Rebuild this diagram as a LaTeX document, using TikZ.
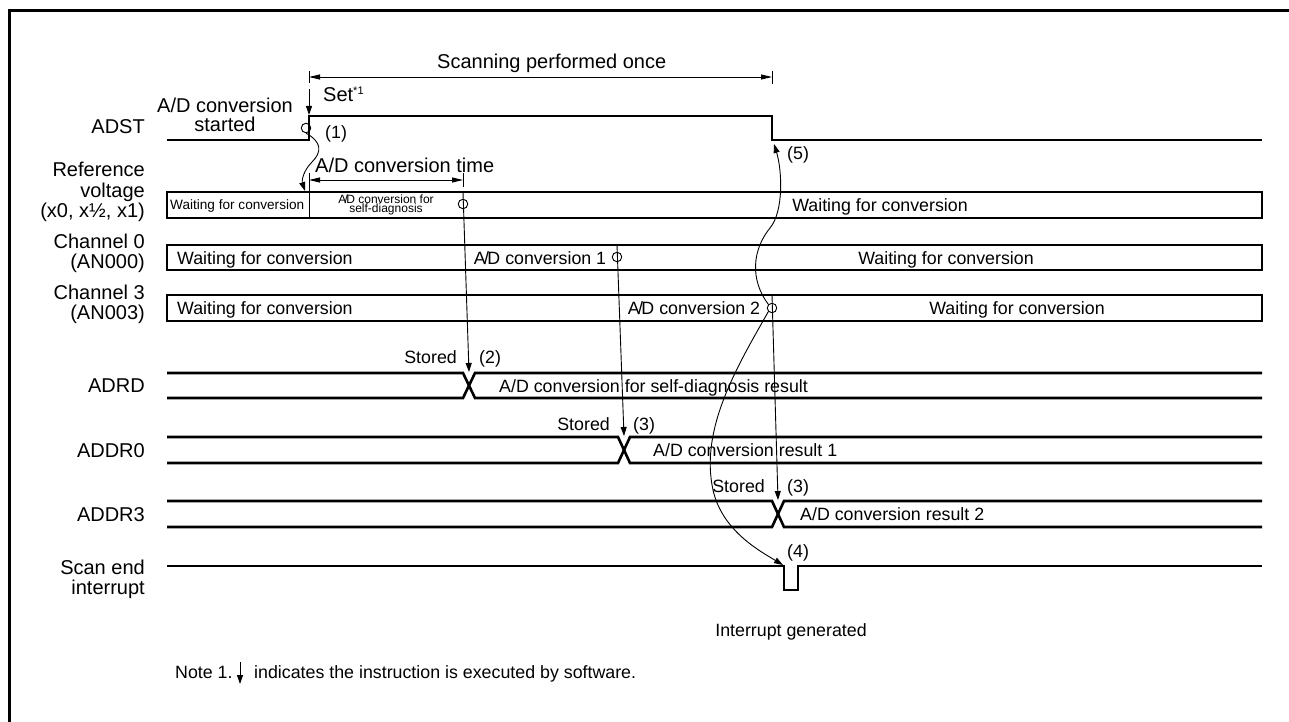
\documentclass[tikz,border=0pt]{standalone}
\usepackage{fontspec}
\setmainfont{Liberation Sans}
\usepackage{graphicx}
\usetikzlibrary{arrows.meta}
\newcommand{\AD}{A\kern-1.6pt/\kern-1.6pt D}
\begin{document}
\begin{tikzpicture}[x=1pt,y=-1pt,
  lbl/.style={font=\fontsize{20}{22}\selectfont, inner sep=0pt},
  txt/.style={font=\fontsize{17.8}{20}\selectfont, inner sep=0pt},
  sig/.style={line width=2.6pt, line join=miter},
  thinl/.style={line width=0.9pt},
  mk/.style={circle, draw, line width=0.9pt, minimum size=9.5pt, inner sep=0pt},
  arr/.style={-{Triangle[length=9pt,width=6pt]}},
  dimarr/.style={thinl, {Triangle[length=11pt,width=5pt]}-{Triangle[length=11pt,width=5pt]}}
]
\useasboundingbox (0,0) rectangle (1289,722);
% frame
\draw[line width=3pt] (9,722) -- (9,11) -- (1289,11);

% ---------- left labels ----------
\node[lbl, anchor=base east] (lADST) at (145,134) {ADST};
\node[lbl, anchor=base east] (lRef1) at (145,177) {Reference};
\node[lbl, anchor=base east] (lRef2) at (145,197) {voltage};
\node[lbl, anchor=base east] (lRef3) at (145,217) {(x0, x½, x1)};
\node[lbl, anchor=base east] (lCh0a) at (145,248) {Channel 0};
\node[lbl, anchor=base east] (lCh0b) at (145,268) {(AN000)};
\node[lbl, anchor=base east] (lCh3a) at (145,299) {Channel 3};
\node[lbl, anchor=base east] (lCh3b) at (145,319) {(AN003)};
\node[lbl, anchor=base east] (lADRD) at (145,392) {ADRD};
\node[lbl, anchor=base east] (lADDR0) at (145,457) {ADDR0};
\node[lbl, anchor=base east] (lADDR3) at (145,521) {ADDR3};
\node[lbl, anchor=base east] (lScan1) at (145,574) {Scan end};
\node[lbl, anchor=base east] (lScan2) at (145,594) {interrupt};

% ---------- top annotations ----------
\node[lbl, anchor=base west] (tScan) at (437,69) {Scanning performed once};
\coordinate (scL) at (309,77);
\coordinate (scR) at (772,77);
\draw[thinl] (309,71) -- (309,83);
\draw[thinl] (772,71) -- (772,84);
\draw[dimarr] (scL) -- (scR);

\node[lbl, anchor=base west] (tSet) at (323,102) {Set\raisebox{7pt}{\fontsize{11}{11}\selectfont *1}};
\coordinate (setTop) at (309,89);
\coordinate (setBot) at (309,115);
\draw[thinl, arr] (setTop) -- (setBot);

\node[lbl, anchor=base] (tStart1) at (225,113) {A/D conversion};
\node[lbl, anchor=base] (tStart2) at (225,132) {started};

% ADST waveform
\draw[sig] (167,140) -- (309,140) -- (309,116) -- (772,116) -- (772,140) -- (1262,140);
\node[mk] (c1) at (306,128) {};
\node[txt, anchor=base west] (n1) at (325,139) {(1)};
\node[txt, anchor=base west] (n5) at (787,160) {(5)};

% A/D conversion time
\node[lbl, anchor=base west] (tTime) at (315,172) {A/D conversion time};
\coordinate (atL) at (309,180);
\coordinate (atR) at (463,180);
\draw[thinl] (463,173) -- (463,187);
\draw[thinl] (309,173) -- (309,192);
\draw[dimarr] (atL) -- (atR);

% ---------- reference voltage box ----------
\draw[sig] (167,192) rectangle (1262,218);
\draw[thinl] (309,192) -- (309,218);
\node[inner sep=0pt, anchor=base west, font=\fontsize{13.6}{14}\selectfont] (rw1) at (170,209) {Waiting for conversion};
\node[inner sep=0pt, anchor=base, font=\fontsize{12}{12}\selectfont] (rsd1) at (386,203) {\AD{} conversion for};
\node[inner sep=0pt, anchor=base, font=\fontsize{12}{12}\selectfont] (rsd2) at (386,212.5) {self-diagnosis};
\node[txt, anchor=base] (rw2) at (880,211.5) {Waiting for conversion};
\node[mk] (cR) at (463,204) {};
\coordinate (rTop) at (463,192);

% ---------- channel 0 box ----------
\draw[sig] (167,245) rectangle (1262,270);
\node[txt, anchor=base west] (c0w1) at (177,264) {Waiting for conversion};
\node[txt, anchor=base] (c0ad) at (540,264) {\AD{} conversion 1};
\node[mk] (c0c) at (617,257) {};
\node[txt, anchor=base] (c0w2) at (946,264) {Waiting for conversion};
\coordinate (c0Top) at (617,245);

% ---------- channel 3 box ----------
\draw[sig] (167,295) rectangle (1262,321);
\node[txt, anchor=base west] (c3w1) at (177,314.5) {Waiting for conversion};
\node[txt, anchor=base] (c3ad) at (694,314.5) {\AD{} conversion 2};
\node[mk] (c3c) at (772,308) {};
\node[txt, anchor=base] (c3w2) at (1017,314.5) {Waiting for conversion};
\coordinate (c3Top) at (772,295);

% ---------- ADRD ----------
\draw[sig] (167,373) -- (463,373) -- (475,398) -- (1262,398);
\draw[sig] (167,398) -- (463,398) -- (475,373) -- (1262,373);
\coordinate (xA) at (469,372);
\node[txt, anchor=base east] (stA) at (457,363) {Stored};
\node[txt, anchor=base west] (n2) at (479,363) {(2)};
\node[txt, anchor=base west] (tADRD) at (499,392) {A/D conversion for self-diagnosis result};

% ---------- ADDR0 ----------
\draw[sig] (167,437) -- (618,437) -- (630,463) -- (1262,463);
\draw[sig] (167,463) -- (618,463) -- (630,437) -- (1262,437);
\coordinate (xB) at (624,436);
\node[txt, anchor=base east] (stB) at (610,430) {Stored};
\node[txt, anchor=base west] (n3a) at (633,430) {(3)};
\node[txt, anchor=base west] (tADDR0) at (653,456.5) {A/D conversion result 1};

% ---------- ADDR3 ----------
\draw[sig] (167,501) -- (772,501) -- (784,527) -- (1262,527);
\draw[sig] (167,527) -- (772,527) -- (784,501) -- (1262,501);
\coordinate (xC) at (778,500);
\node[txt, anchor=base east] (stC) at (765,492) {Stored};
\node[txt, anchor=base west] (n3b) at (787,492) {(3)};
\node[txt, anchor=base west] (tADDR3) at (800,520.5) {A/D conversion result 2};

% ---------- scan end interrupt ----------
\draw[sig] (167,566) -- (784,566) -- (784,590) -- (798,590) -- (798,566) -- (1262,566);
\coordinate (pulse) at (783,565);
\node[txt, anchor=base west] (n4) at (787,557) {(4)};
\node[txt, anchor=base] (tInt) at (791,636) {Interrupt generated};

% ---------- connectors ----------
\coordinate (c1end) at (305,191);
\draw[thinl, arr] (c1.south) .. controls (322,142) and (322,152) .. (312,162) .. controls (302,172) and (302,182) .. (c1end);
\draw[thinl, arr] (rTop) -- (xA);
\draw[thinl, arr] (c0Top) -- (xB);
\draw[thinl, arr] (c3Top) -- (xC);
\coordinate (fall) at (774,144);
\draw[thinl, arr] (c3c.north west) .. controls (750,280) and (752,250) .. (770,228) .. controls (784,211) and (782,170) .. (fall);
\draw[thinl, arr] (c3c.south west) .. controls (735,370) and (700,430) .. (713,490) .. controls (722,530) and (758,550) .. (pulse);

% ---------- note ----------
\node[txt, anchor=base west] (note1) at (175,678) {Note 1.};
\coordinate (noteT) at (240,662);
\coordinate (noteB) at (240,684);
\draw[thinl, arr] (noteT) -- (noteB);
\node[txt, anchor=base west] (note2) at (254,678) {indicates the instruction is executed by software.};
\end{tikzpicture}
\end{document}
